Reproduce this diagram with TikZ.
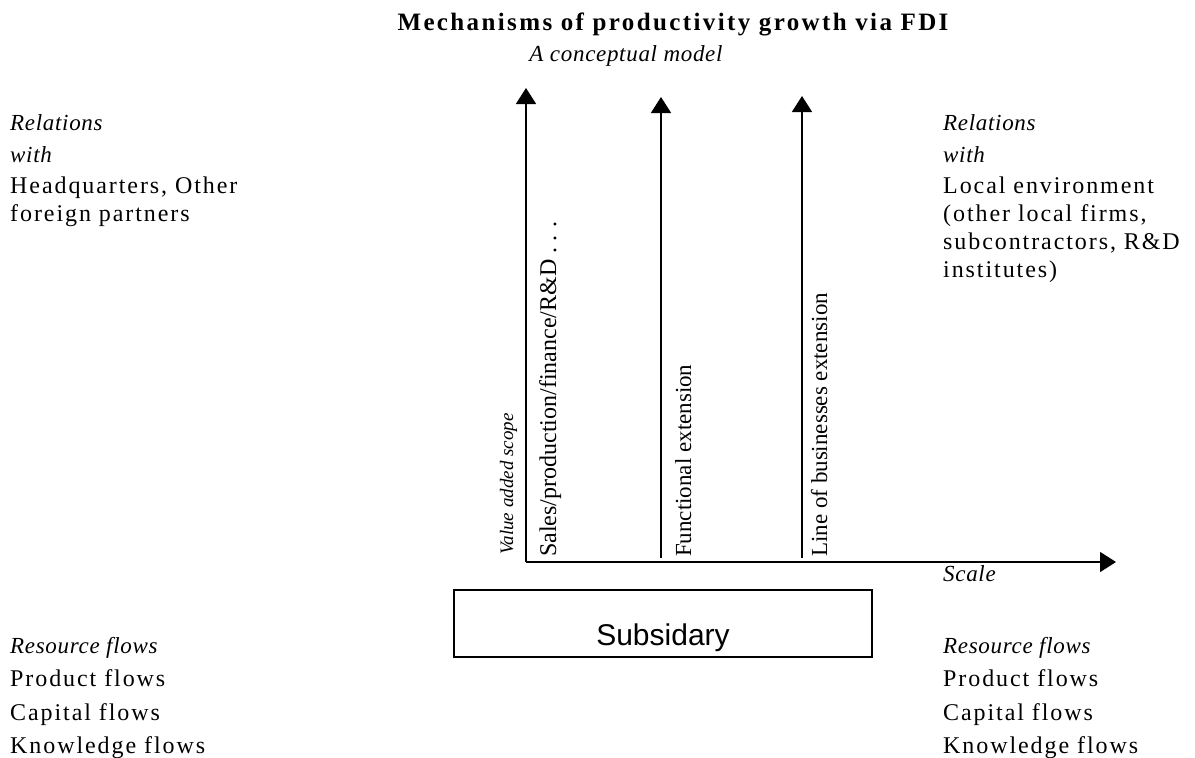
\documentclass[tikz,border=0pt]{standalone}
\usepackage{fontspec}
\setmainfont{Liberation Serif}
\newfontfamily\sanslbl{Liberation Sans}
\usepackage{tikz}
\usetikzlibrary{positioning,arrows.meta}
\tikzset{flecha/.style={line width=1.6pt,-{Triangle[length=16pt,width=20pt]}}}
\tikzset{texto/.style={inner sep=0pt,anchor=base west,font=\fontsize{24}{28}\selectfont\addfontfeature{LetterSpace=8}}}
\tikzset{cursiva/.style={inner sep=0pt,anchor=base west,font=\fontsize{23}{28}\selectfont\itshape\addfontfeature{LetterSpace=3}}}
\tikzset{girado/.style={inner sep=0pt,anchor=base west,rotate=90,font=\fontsize{23}{28}\selectfont}}

\begin{document}
\begin{tikzpicture}[x=1pt,y=-1pt]
            \useasboundingbox (0,0) rectangle (1195,758);

            % titulo
            \node[inner sep=0pt,anchor=base,font=\fontsize{25}{28}\selectfont\bfseries\addfontfeature{LetterSpace=9.5}] (tit) at (673,30) {Mechanisms of productivity growth via FDI};
            \node[cursiva,anchor=base] (sub) at (626,61) {A conceptual model};

            % ejes
            \coordinate (o) at (526,562);
            \coordinate (v1) at (526,88);
            \coordinate (b2) at (661,558);
            \coordinate (v2) at (661,97);
            \coordinate (b3) at (802,558);
            \coordinate (v3) at (802,96);
            \coordinate (h) at (1116,562);

            \draw[flecha] (o) to (v1);
            \draw[flecha] (b2) to (v2);
            \draw[flecha] (b3) to (v3);
            \draw[flecha] (o) to (h);

            \node[girado,font=\fontsize{19}{22}\selectfont\itshape] (vas) at (513,555) {Value added scope};
            \node[girado,font=\fontsize{24}{28}\selectfont] (spf) at (556,557) {Sales/production/finance/R\&D . . .};
            \node[girado] (fe) at (691,557) {Functional extension};
            \node[girado] (lb) at (827,557) {Line of businesses extension};
            \node[cursiva] (sc) at (943,581) {Scale};

            % subsidiaria
            \node[draw,line width=1.3pt,inner sep=0pt,anchor=base,minimum width=418pt,
                  text height=55pt,text depth=12pt,font=\sanslbl\fontsize{30}{30}\selectfont] (s) at (663,645) {Subsidary};

            % izquierda
            \node[cursiva] (r1) at (10,130) {Relations};
            \node[cursiva] (w1) at (10,162) {with};
            \node[texto] (hq) at (10,193) {Headquarters, Other};
            \node[texto] (fp) at (10,221) {foreign partners};

            \node[cursiva] (rf1) at (10,653) {Resource flows};
            \node[texto] (pf1) at (10,686) {Product flows};
            \node[texto] (cf1) at (10,720) {Capital flows};
            \node[texto] (kf1) at (10,753) {Knowledge flows};

            % derecha
            \node[cursiva] (r2) at (943,130) {Relations};
            \node[cursiva] (w2) at (943,162) {with};
            \node[texto] (le) at (943,193) {Local environment};
            \node[texto] (ol) at (943,221) {(other local firms,};
            \node[texto] (sb) at (943,249) {subcontractors, R\&D};
            \node[texto] (in) at (943,277) {institutes)};

            \node[cursiva] (rf2) at (943,653) {Resource flows};
            \node[texto] (pf2) at (943,686) {Product flows};
            \node[texto] (cf2) at (943,720) {Capital flows};
            \node[texto] (kf2) at (943,753) {Knowledge flows};
        \end{tikzpicture}
\end{document}
